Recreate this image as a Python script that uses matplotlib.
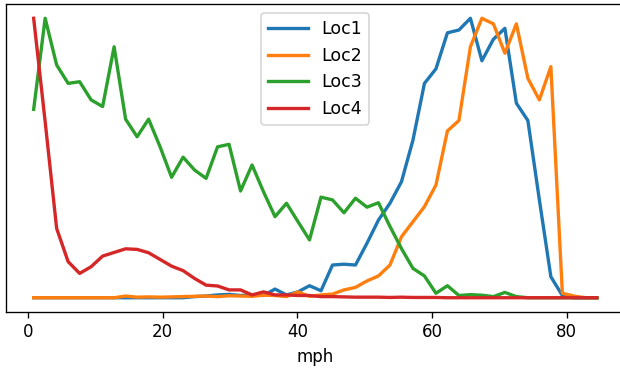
import numpy as np
import matplotlib
matplotlib.use("Agg")
import matplotlib.pyplot as plt

# bin centres (mph)
mph = np.linspace(0.83, 84.5, 50)

loc1 = [0, 0, 0, 0, 0, 0, 0, 0, 0, 0,
        0, 0, 0, 0, 0.004, 0.006, 0.010, 0.012, 0.008, 0.010,
        0.008, 0.031, 0.010, 0.021, 0.043, 0.025, 0.117, 0.120, 0.117, 0.195,
        0.278, 0.338, 0.415, 0.564, 0.767, 0.819, 0.948, 0.958, 1.000, 0.848,
        0.925, 0.964, 0.696, 0.634, 0.350, 0.075, 0.008, 0, 0, 0]

loc2 = [0, 0, 0, 0, 0, 0, 0, 0, 0.006, 0.002,
        0.003, 0.002, 0.003, 0.004, 0.005, 0.006, 0.004, 0.007, 0.006, 0.005,
        0.009, 0.008, 0.004, 0.021, 0.005, 0.010, 0.013, 0.028, 0.037, 0.060,
        0.078, 0.117, 0.218, 0.272, 0.326, 0.403, 0.597, 0.634, 0.898, 1.000,
        0.980, 0.875, 0.980, 0.785, 0.708, 0.827, 0.016, 0.006, 0, 0]

loc3 = [0.674, 1.000, 0.833, 0.767, 0.773, 0.708, 0.684, 0.898, 0.639, 0.576,
        0.639, 0.540, 0.431, 0.503, 0.457, 0.427, 0.540, 0.549, 0.382, 0.475,
        0.379, 0.290, 0.338, 0.272, 0.207, 0.360, 0.350, 0.304, 0.356, 0.324,
        0.340, 0.255, 0.176, 0.105, 0.078, 0.016, 0.043, 0.008, 0.011, 0.009,
        0.004, 0.019, 0.004, 0, 0, 0, 0, 0, 0, 0]

loc4 = [1.000, 0.630, 0.248, 0.129, 0.087, 0.111, 0.149, 0.162, 0.175, 0.173,
        0.161, 0.137, 0.113, 0.097, 0.069, 0.045, 0.042, 0.028, 0.028, 0.010,
        0.021, 0.010, 0.010, 0.008, 0.008, 0.004, 0.004, 0.003, 0.002, 0.002,
        0.002, 0.001, 0.002, 0.001, 0.001, 0.001, 0, 0, 0, 0,
        0, 0, 0, 0, 0, 0, 0, 0, 0, 0]

series = {"Loc1": loc1, "Loc2": loc2, "Loc3": loc3, "Loc4": loc4}

dpi = 120
fig = plt.figure(figsize=(620 / dpi, 370 / dpi), dpi=dpi)
ax = fig.add_axes([5.5 / 620, 58.3 / 370, 619.5 / 620, 307.4 / 370])

for name, vals in series.items():
    ax.plot(mph, vals, label=name, linewidth=2)

ax.set_yticks([])
ax.set_xticks([0, 20, 40, 60, 80])
ax.set_xlabel("mph")
ax.legend(loc="upper center", fontsize=10.4, handlelength=2.3)

fig.savefig("out.png", dpi=dpi)
